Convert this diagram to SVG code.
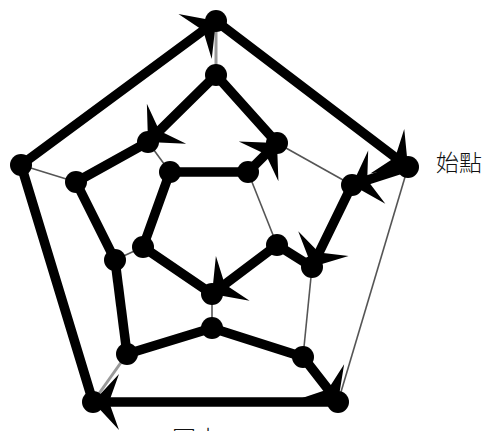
<svg xmlns="http://www.w3.org/2000/svg" width="490" height="431" viewBox="0 0 490 431">
<style>
.thin{stroke:#555;stroke-width:1.6;fill:none}
.gray{stroke:#999;stroke-width:3;fill:none}
.thick{stroke:#000;stroke-width:9.5;stroke-linecap:round;fill:none}
.arr{marker-end:url(#star)}
.node{fill:#000}
.lbl{font-family:"Noto Sans CJK TC","Noto Sans CJK SC",sans-serif;font-weight:300;fill:#111}
</style>
<defs>
<marker id="star" markerUnits="userSpaceOnUse" viewBox="-30 -30 32 60" refX="0" refY="0" markerWidth="32" markerHeight="60" orient="auto" overflow="visible">
<path d="M0,0 L-26,-28 L-16,0 L-26,28 Z" fill="#000"/>
</marker>
</defs>
<g id="connectors">
<line class="gray" x1="216" y1="21" x2="216" y2="75"/>
<line class="thin" x1="408" y1="167" x2="338" y2="402"/>
<line class="gray" x1="93" y1="402" x2="127" y2="354"/>
<line class="thin" x1="21" y1="165" x2="76" y2="182"/>
<line class="thin" x1="277" y1="143" x2="352" y2="185"/>
<line class="thin" x1="148" y1="142" x2="170" y2="172"/>
<line class="thin" x1="115" y1="260" x2="143" y2="247"/>
<line class="thin" x1="212" y1="328" x2="212" y2="294"/>
<line class="thin" x1="312" y1="267" x2="303" y2="357"/>
<line class="thin" x1="248" y1="172" x2="277" y2="245"/>
<line class="thick arr" x1="408" y1="167" x2="352" y2="185"/>
<line class="thick arr" x1="352" y1="185" x2="312" y2="267"/>
<line class="thick" x1="312" y1="267" x2="277" y2="245"/>
<line class="thick arr" x1="277" y1="245" x2="212" y2="294"/>
<line class="thick" x1="212" y1="294" x2="143" y2="247"/>
<line class="thick" x1="143" y1="247" x2="170" y2="172"/>
<line class="thick" x1="170" y1="172" x2="248" y2="172"/>
<line class="thick arr" x1="248" y1="172" x2="277" y2="143"/>
<line class="thick" x1="277" y1="143" x2="216" y2="75"/>
<line class="thick arr" x1="216" y1="75" x2="148" y2="142"/>
<line class="thick" x1="148" y1="142" x2="76" y2="182"/>
<line class="thick" x1="76" y1="182" x2="115" y2="260"/>
<line class="thick" x1="115" y1="260" x2="127" y2="354"/>
<line class="thick" x1="127" y1="354" x2="212" y2="328"/>
<line class="thick" x1="212" y1="328" x2="303" y2="357"/>
<line class="thick arr" x1="303" y1="357" x2="338" y2="402"/>
<line class="thick arr" x1="338" y1="402" x2="93" y2="402"/>
<line class="thick" x1="93" y1="402" x2="21" y2="165"/>
<line class="thick arr" x1="21" y1="165" x2="216" y2="21"/>
<line class="thick arr" x1="216" y1="21" x2="408" y2="167"/>
</g>
<g id="A1"><circle class="node" cx="216" cy="21" r="11"/></g>
<g id="A2"><circle class="node" cx="408" cy="167" r="11"/></g>
<g id="A3"><circle class="node" cx="338" cy="402" r="11"/></g>
<g id="A4"><circle class="node" cx="93" cy="402" r="11"/></g>
<g id="A5"><circle class="node" cx="21" cy="165" r="11"/></g>
<g id="B1"><circle class="node" cx="216" cy="75" r="11"/></g>
<g id="B2"><circle class="node" cx="277" cy="143" r="11"/></g>
<g id="B3"><circle class="node" cx="352" cy="185" r="11"/></g>
<g id="B4"><circle class="node" cx="312" cy="267" r="11"/></g>
<g id="B5"><circle class="node" cx="303" cy="357" r="11"/></g>
<g id="B6"><circle class="node" cx="212" cy="328" r="11"/></g>
<g id="B7"><circle class="node" cx="127" cy="354" r="11"/></g>
<g id="B8"><circle class="node" cx="115" cy="260" r="11"/></g>
<g id="B9"><circle class="node" cx="76" cy="182" r="11"/></g>
<g id="B10"><circle class="node" cx="148" cy="142" r="11"/></g>
<g id="C1"><circle class="node" cx="170" cy="172" r="11"/></g>
<g id="C2"><circle class="node" cx="248" cy="172" r="11"/></g>
<g id="C3"><circle class="node" cx="277" cy="245" r="11"/></g>
<g id="C4"><circle class="node" cx="212" cy="294" r="11"/></g>
<g id="C5"><circle class="node" cx="143" cy="247" r="11"/></g>
<g id="labels">
<text class="lbl" x="436" y="171" font-size="23">始點</text>
<text class="lbl" x="172" y="448" font-size="24">圖十二</text>
</g>
</svg>
